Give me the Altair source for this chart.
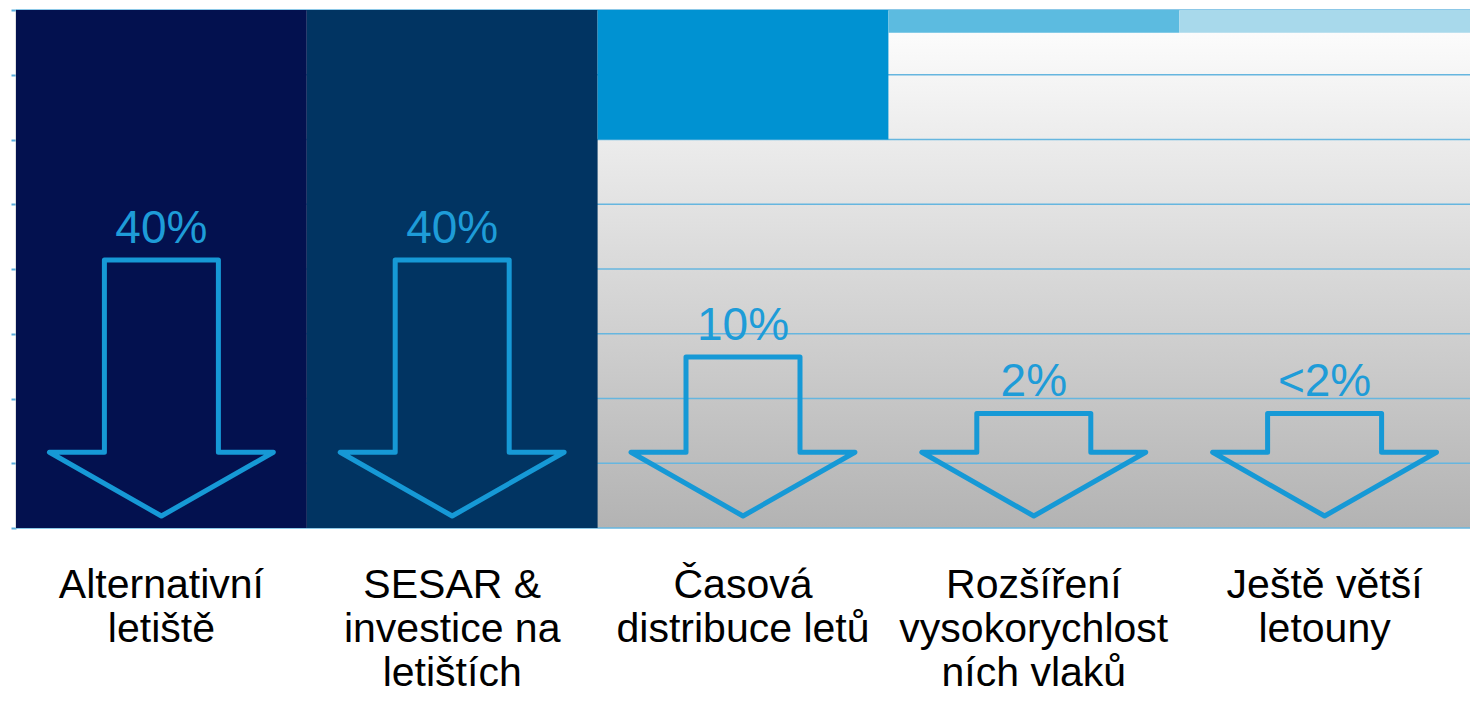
import altair as alt
import pandas as pd

# ---- data ----
categories = [
    "Alternativní\nletiště",
    "SESAR &\ninvestice na\nletištích",
    "Časová\ndistribuce letů",
    "Rozšíření\nvysokorychlost\nních vlaků",
    "Ještě větší\nletouny",
]
pct_labels = ["40%", "40%", "10%", "2%", "<2%"]
bar_bottom = [0.0, 0.0, 6.0, 7.65, 7.65]     # bars hang from the top of the scale
bar_top = 8.0
arrow_top = [4.14, 4.14, 2.64, 1.77, 1.77]   # top of each arrow shaft
grid_values = list(range(0, 9))

# ---- styles ----
bar_colors = ["#03114f", "#013462", "#0092d2", "#5cbbe0", "#a8d9eb"]
arrow_color = "#1699d6"
grid_color = "#66b6df"
W, H = 1454, 518
SHAFT_HALF, HEAD_HALF = 0.196, 0.385
HEAD_BASE, TIP = 1.17, 0.185

n = len(categories)
bars = pd.DataFrame({
    "cat": categories,
    "x0": list(range(n)),
    "x1": [i + 1 for i in range(n)],
    "yb": bar_bottom,
    "yt": [bar_top] * n,
    "xc": [i + 0.5 for i in range(n)],
    "atop": arrow_top,
    "pct": pct_labels,
})

rows = []
for i, (c, top) in enumerate(zip(categories, arrow_top)):
    cx = i + 0.5
    pts = [
        (cx - SHAFT_HALF, top), (cx + SHAFT_HALF, top), (cx + SHAFT_HALF, HEAD_BASE),
        (cx + HEAD_HALF, HEAD_BASE), (cx, TIP), (cx - HEAD_HALF, HEAD_BASE),
        (cx - SHAFT_HALF, HEAD_BASE), (cx - SHAFT_HALF, top),
    ]
    for k, (px, py) in enumerate(pts):
        rows.append({"cat": c, "k": k, "ax": px, "ay": py})
arrows = pd.DataFrame(rows)
grid = pd.DataFrame({"g": grid_values})

xs = alt.Scale(domain=[0, n], nice=False, zero=False)
ys = alt.Scale(domain=[0, bar_top], nice=False, zero=False)

gradient = alt.LinearGradient(
    gradient="linear",
    stops=[alt.GradientStop(color="#ffffff", offset=0),
           alt.GradientStop(color="#b3b3b3", offset=1)],
    x1=0, x2=0, y1=0, y2=1,
)

background = alt.Chart(pd.DataFrame({"a": [0]})).mark_rect(color=gradient).encode(
    x=alt.datum(0, scale=xs, axis=None),
    x2=alt.datum(n),
    y=alt.datum(0, scale=ys, axis=alt.Axis(labels=False, grid=False, title=None,
                                           ticks=True, tickSize=5, tickColor="#5aaedc",
                                           tickWidth=2, domainColor="#c4c4c4",
                                           domainWidth=2, values=grid_values)),
    y2=alt.datum(bar_top),
)

gridlines = alt.Chart(grid).mark_rule(color=grid_color, strokeWidth=1.6).encode(
    y=alt.Y("g:Q", scale=ys),
)

bar_layer = alt.Chart(bars).mark_rect().encode(
    x=alt.X("x0:Q", scale=xs),
    x2="x1:Q",
    y=alt.Y("yb:Q", scale=ys),
    y2="yt:Q",
    color=alt.Color("cat:N", scale=alt.Scale(domain=categories, range=bar_colors), legend=None),
)

arrow_layer = alt.Chart(arrows).mark_line(
    color=arrow_color, strokeWidth=5, strokeJoin="round", strokeCap="round"
).encode(
    x=alt.X("ax:Q", scale=xs),
    y=alt.Y("ay:Q", scale=ys),
    detail="cat:N",
    order="k:Q",
)

pct_layer = alt.Chart(bars).mark_text(
    font="Liberation Sans", fontSize=46, color="#1e9cd8", baseline="alphabetic", dy=-17
).encode(
    x=alt.X("xc:Q", scale=xs),
    y=alt.Y("atop:Q", scale=ys),
    text="pct:N",
)

cat_layer = alt.Chart(bars).mark_text(
    font="Liberation Sans", fontSize=41, color="#000000", baseline="alphabetic",
    lineBreak="\n", lineHeight=44, dy=70
).encode(
    x=alt.X("xc:Q", scale=xs),
    y=alt.datum(0, scale=ys),
    text="cat:N",
)

chart = alt.layer(
    background, gridlines, bar_layer, arrow_layer, pct_layer, cat_layer
).properties(
    width=W, height=H,
    autosize=alt.AutoSizeParams(type="none"),
    padding={"left": 8, "top": 2, "right": 0, "bottom": 169},
).configure_view(stroke=None)

chart.save("out.html", embed_options={"renderer": "svg", "actions": False})
